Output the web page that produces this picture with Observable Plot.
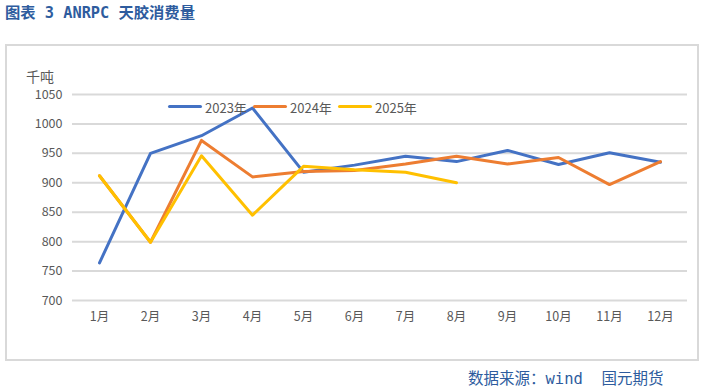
<!DOCTYPE html>
<html><head><meta charset="utf-8">
<script src="https://cdn.jsdelivr.net/npm/d3@7"></script>
<script src="https://cdn.jsdelivr.net/npm/@observablehq/plot@0.6"></script>
<style>
html,body{margin:0;padding:0;background:#fff;}
#wrap{position:relative;width:702px;height:390px;overflow:hidden;font-family:"Noto Sans CJK SC",sans-serif;}
#title{position:absolute;left:5px;top:0px;font-family:"DejaVu Sans Mono","Noto Sans CJK SC",monospace;font-size:15.3px;font-weight:bold;color:#2E5C9E;white-space:pre;}
#footer{position:absolute;left:468px;top:366px;font-family:"DejaVu Sans Mono","Noto Sans CJK SC",monospace;font-size:15.5px;color:#2E5C9E;white-space:pre;}
#box{position:absolute;left:5px;top:44px;width:690px;height:313px;border:2px solid #D9D9D9;}
#unit{position:absolute;left:26px;top:66px;font-size:14px;color:#595959;}
#chart{position:absolute;left:0;top:0;}
.lg{position:absolute;top:98px;font-size:13px;color:#595959;white-space:nowrap;}
.sw{position:absolute;top:105px;width:34px;height:3px;border-radius:2px;}
</style></head>
<body><div id="wrap">
<div id="box"></div>
<div id="chart"></div>
<div id="title">图表 3 ANRPC 天胶消费量</div>
<div id="unit">千吨</div>
<div id="legend"></div>
<div id="footer">数据来源：wind  国元期货</div>
</div>
<script>
const months = ["1月","2月","3月","4月","5月","6月","7月","8月","9月","10月","11月","12月"];
const seriesNames = ["2023年","2024年","2025年"];
const colors = ["#4472C4","#ED7D31","#FFC000"];
const v2023 = [764, 950, 980, 1027, 918, 930, 945, 936, 955, 931, 951, 935];
const v2024 = [912, 799, 972, 910, 919, 921, 932, 945, 932, 943, 897, 936];
const v2025 = [912, 799, 946, 845, 928, 922, 918, 900];
const yTicks = [700, 750, 800, 850, 900, 950, 1000, 1050];

const data = [];
[v2023, v2024, v2025].forEach((arr, si) => {
  arr.forEach((v, i) => data.push({series: seriesNames[si], month: months[i], value: v}));
});

const chart = Plot.plot({
  width: 702,
  height: 390,
  marginTop: 94,
  marginBottom: 90,
  marginLeft: 72,
  marginRight: 15,
  style: {fontFamily: '"Noto Sans CJK SC", sans-serif', fontSize: "12.5px", color: "#595959", background: "transparent"},
  x: {type: "point", domain: months, padding: 0.5, label: null},
  y: {domain: [700, 1050], label: null},
  color: {domain: seriesNames, range: colors},
  marks: [
    Plot.ruleY(yTicks, {stroke: "#D9D9D9", strokeWidth: 2}),
    Plot.axisY({ticks: yTicks, tickFormat: d3.format("d"), tickSize: 0, tickPadding: 10, fill: "#595959"}),
    Plot.axisX({tickSize: 0, tickPadding: 12, fill: "#595959"}),
    Plot.line(data, {x: "month", y: "value", z: "series", stroke: "series", strokeWidth: 3, strokeLinejoin: "round", strokeLinecap: "round"})
  ]
});
document.getElementById("chart").appendChild(chart);

const lg = document.getElementById("legend");
const lx = [168, 253, 338];
seriesNames.forEach((s, i) => {
  const sw = document.createElement("div");
  sw.className = "sw"; sw.style.left = lx[i] + "px"; sw.style.background = colors[i];
  lg.appendChild(sw);
  const t = document.createElement("div");
  t.className = "lg"; t.style.left = (lx[i] + 37) + "px"; t.textContent = s;
  lg.appendChild(t);
});
</script>
</body></html>
